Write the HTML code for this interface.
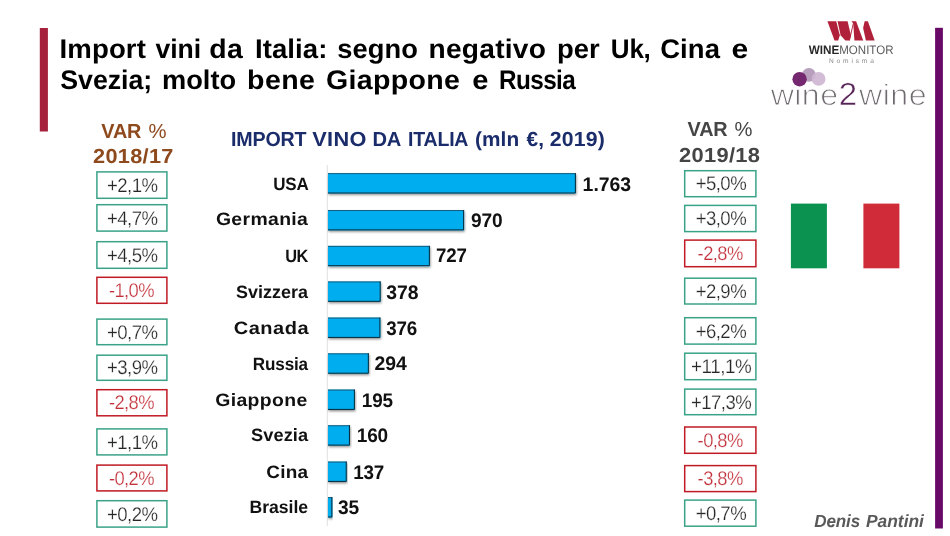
<!DOCTYPE html>
<html><head><meta charset="utf-8"><title>Import vini da Italia</title>
<style>
html,body{margin:0;padding:0;background:#fff;}
body{width:950px;height:536px;overflow:hidden;font-family:"Liberation Sans", sans-serif;}
svg{display:block;opacity:0.999;font-family:"Liberation Sans", sans-serif;font-weight:bold;text-rendering:geometricPrecision;}
</style></head>
<body>
<svg width="950" height="536" viewBox="0 0 950 536">
<defs><filter id="sh" x="-5%" y="-20%" width="110%" height="160%"><feDropShadow dx="0.6" dy="1.4" stdDeviation="0.9" flood-color="#000" flood-opacity="0.45"/></filter></defs>
<rect width="950" height="536" fill="#fff"/>
<rect x="39.8" y="28" width="8.1" height="103.5" fill="#a5213c"/>
<rect x="935.1" y="27.8" width="7.8" height="500.7" fill="#690a69"/>
<rect x="790.9" y="203.6" width="36" height="64.7" fill="#0b9250"/>
<rect x="863.4" y="203.6" width="36" height="64.7" fill="#cf2b38"/>
<rect x="326.8" y="165" width="1" height="361" fill="#e0e0e0"/>
<rect x="328" y="173.20" width="247.88" height="20.30" fill="#04aef0" filter="url(#sh)"/>
<path d="M328 173.65H575.88" stroke="#12536f" stroke-width="0.9" fill="none"/>
<path d="M575.38 173.20V193.00H328" stroke="#0a2836" stroke-width="1" fill="none"/>
<rect x="328" y="210.10" width="136.11" height="20.30" fill="#04aef0" filter="url(#sh)"/>
<path d="M328 210.55H464.11" stroke="#12536f" stroke-width="0.9" fill="none"/>
<path d="M463.61 210.10V229.90H328" stroke="#0a2836" stroke-width="1" fill="none"/>
<rect x="328" y="245.90" width="101.86" height="20.30" fill="#04aef0" filter="url(#sh)"/>
<path d="M328 246.35H429.86" stroke="#12536f" stroke-width="0.9" fill="none"/>
<path d="M429.36 245.90V265.70H328" stroke="#0a2836" stroke-width="1" fill="none"/>
<rect x="328" y="281.50" width="52.68" height="20.30" fill="#04aef0" filter="url(#sh)"/>
<path d="M328 281.95H380.68" stroke="#12536f" stroke-width="0.9" fill="none"/>
<path d="M380.18 281.50V301.30H328" stroke="#0a2836" stroke-width="1" fill="none"/>
<rect x="328" y="317.60" width="52.39" height="20.30" fill="#04aef0" filter="url(#sh)"/>
<path d="M328 318.05H380.39" stroke="#12536f" stroke-width="0.9" fill="none"/>
<path d="M379.89 317.60V337.40H328" stroke="#0a2836" stroke-width="1" fill="none"/>
<rect x="328" y="353.40" width="40.84" height="20.30" fill="#04aef0" filter="url(#sh)"/>
<path d="M328 353.85H368.84" stroke="#12536f" stroke-width="0.9" fill="none"/>
<path d="M368.34 353.40V373.20H328" stroke="#0a2836" stroke-width="1" fill="none"/>
<rect x="328" y="389.60" width="26.88" height="20.30" fill="#04aef0" filter="url(#sh)"/>
<path d="M328 390.05H354.88" stroke="#12536f" stroke-width="0.9" fill="none"/>
<path d="M354.38 389.60V409.40H328" stroke="#0a2836" stroke-width="1" fill="none"/>
<rect x="328" y="425.30" width="21.95" height="20.30" fill="#04aef0" filter="url(#sh)"/>
<path d="M328 425.75H349.95" stroke="#12536f" stroke-width="0.9" fill="none"/>
<path d="M349.45 425.30V445.10H328" stroke="#0a2836" stroke-width="1" fill="none"/>
<rect x="328" y="461.60" width="18.71" height="20.30" fill="#04aef0" filter="url(#sh)"/>
<path d="M328 462.05H346.71" stroke="#12536f" stroke-width="0.9" fill="none"/>
<path d="M346.21 461.60V481.40H328" stroke="#0a2836" stroke-width="1" fill="none"/>
<rect x="328" y="497.20" width="4.33" height="20.30" fill="#04aef0" filter="url(#sh)"/>
<path d="M328 497.65H332.33" stroke="#12536f" stroke-width="0.9" fill="none"/>
<path d="M331.83 497.20V517.00H328" stroke="#0a2836" stroke-width="1" fill="none"/>
<rect x="96.90" y="171.90" width="70.00" height="26.40" fill="none" stroke="#3aa387" stroke-width="1.5"/>
<rect x="96.90" y="204.70" width="70.00" height="26.40" fill="none" stroke="#3aa387" stroke-width="1.5"/>
<rect x="96.90" y="241.70" width="70.00" height="26.60" fill="none" stroke="#3aa387" stroke-width="1.5"/>
<rect x="96.90" y="277.30" width="70.00" height="26.00" fill="none" stroke="#c01a24" stroke-width="1.5"/>
<rect x="96.90" y="319.10" width="70.00" height="25.60" fill="none" stroke="#3aa387" stroke-width="1.5"/>
<rect x="96.90" y="355.20" width="70.00" height="25.10" fill="none" stroke="#3aa387" stroke-width="1.5"/>
<rect x="96.90" y="389.70" width="70.00" height="26.10" fill="none" stroke="#c01a24" stroke-width="1.5"/>
<rect x="96.90" y="428.90" width="70.00" height="26.00" fill="none" stroke="#3aa387" stroke-width="1.5"/>
<rect x="96.90" y="465.10" width="70.00" height="25.80" fill="none" stroke="#c01a24" stroke-width="1.5"/>
<rect x="96.90" y="500.70" width="70.00" height="26.40" fill="none" stroke="#3aa387" stroke-width="1.5"/>
<rect x="684.70" y="170.70" width="71.20" height="26.00" fill="none" stroke="#3aa387" stroke-width="1.5"/>
<rect x="684.70" y="205.40" width="71.20" height="26.20" fill="none" stroke="#3aa387" stroke-width="1.5"/>
<rect x="684.70" y="240.10" width="71.20" height="26.60" fill="none" stroke="#c01a24" stroke-width="1.5"/>
<rect x="684.70" y="278.20" width="71.20" height="25.80" fill="none" stroke="#3aa387" stroke-width="1.5"/>
<rect x="684.70" y="317.70" width="71.20" height="26.40" fill="none" stroke="#3aa387" stroke-width="1.5"/>
<rect x="684.70" y="353.20" width="71.20" height="26.50" fill="none" stroke="#3aa387" stroke-width="1.5"/>
<rect x="684.70" y="389.10" width="71.20" height="25.60" fill="none" stroke="#3aa387" stroke-width="1.5"/>
<rect x="684.70" y="427.00" width="71.20" height="26.30" fill="none" stroke="#c01a24" stroke-width="1.5"/>
<rect x="684.70" y="465.60" width="71.20" height="26.00" fill="none" stroke="#c01a24" stroke-width="1.5"/>
<rect x="684.70" y="500.10" width="71.20" height="26.10" fill="none" stroke="#3aa387" stroke-width="1.5"/>
<polygon points="827.41,21.26 836.22,21.26 839.80,35.19 838.21,40.59 834.52,40.59" fill="#b1203a"/>
<polygon points="837.53,21.26 847.59,21.26 851.00,35.76 849.30,40.59 845.32,40.59 840.60,35.19" fill="#b1203a"/>
<polygon points="848.90,40.59 849.92,40.59 854.13,21.43 853.33,21.43" fill="#b1203a"/>
<polygon points="851.29,21.26 856.12,21.26 863.23,40.59 854.42,40.59 853.22,23.25" fill="#b1203a"/>
<polygon points="864.65,21.26 867.89,21.26 874.71,40.59 865.90,40.59 863.11,28.09" fill="#b1203a"/>
<text transform="translate(59.48 58.20) scale(1.0217 1)" font-size="27.0" fill="#000" letter-spacing="0.117">Import</text>
<text transform="translate(155.60 58.20) scale(0.9848 1)" font-size="27.0" fill="#000" letter-spacing="-0.077">vini</text>
<text transform="translate(209.15 58.20) scale(1.0526 1)" font-size="27.0" fill="#000" letter-spacing="0.524">da</text>
<text transform="translate(254.88 58.20) scale(1.0219 1)" font-size="27.0" fill="#000" letter-spacing="0.080">Italia:</text>
<text transform="translate(337.30 58.20) scale(1.0103 1)" font-size="27.0" fill="#000" letter-spacing="0.067">segno</text>
<text transform="translate(428.56 58.20) scale(1.0423 1)" font-size="27.0" fill="#000" letter-spacing="0.212">negativo</text>
<text transform="translate(556.89 58.20) scale(1.0143 1)" font-size="27.0" fill="#000" letter-spacing="0.098">per</text>
<text transform="translate(610.84 58.20) scale(0.9637 1)" font-size="27.0" fill="#000" letter-spacing="-0.248">Uk,</text>
<text transform="translate(660.18 58.20) scale(1.0168 1)" font-size="27.0" fill="#000" letter-spacing="0.107">Cina</text>
<text transform="translate(731.39 58.20) scale(1.1143 1)" font-size="27.0" fill="#000">e</text>
<text transform="translate(60.30 88.60) scale(0.9905 1)" font-size="27.0" fill="#000" letter-spacing="-0.049">Svezia;</text>
<text transform="translate(161.89 88.60) scale(1.0084 1)" font-size="27.0" fill="#000" letter-spacing="0.050">molto</text>
<text transform="translate(247.04 88.60) scale(1.0580 1)" font-size="27.0" fill="#000" letter-spacing="0.378">bene</text>
<text transform="translate(326.04 88.60) scale(1.0565 1)" font-size="27.0" fill="#000" letter-spacing="0.315">Giappone</text>
<text transform="translate(472.32 88.60) scale(1.0786 1)" font-size="27.0" fill="#000">e</text>
<text transform="translate(499.00 88.60) scale(0.9007 1)" font-size="27.0" fill="#000" letter-spacing="-0.651">Russia</text>
<text transform="translate(101.30 138.00) scale(0.9790 1)" font-size="20.3" fill="#8e4a1c" letter-spacing="-0.149">VAR</text>
<text transform="translate(148.50 138.00) scale(1.0000 1)" font-size="20.3" fill="#8e4a1c" font-weight="normal">%</text>
<text transform="translate(93.10 163.10) scale(1.0716 1)" font-size="20.3" fill="#8e4a1c" letter-spacing="0.271">2018/17</text>
<text transform="translate(687.60 136.00) scale(0.9772 1)" font-size="20.3" fill="#454545" letter-spacing="-0.162">VAR</text>
<text transform="translate(734.50 136.00) scale(0.9944 1)" font-size="20.3" fill="#454545" font-weight="normal">%</text>
<text transform="translate(679.00 161.50) scale(1.0777 1)" font-size="20.3" fill="#454545" letter-spacing="0.293">2019/18</text>
<text transform="translate(231.04 146.00) scale(0.9635 1)" font-size="20.4" fill="#1b2c6b" letter-spacing="-0.199">IMPORT</text>
<text transform="translate(312.20 146.00) scale(1.0660 1)" font-size="20.4" fill="#1b2c6b" letter-spacing="0.337">VINO</text>
<text transform="translate(372.41 146.00) scale(0.9863 1)" font-size="20.4" fill="#1b2c6b" letter-spacing="-0.133">DA</text>
<text transform="translate(408.04 146.00) scale(0.9556 1)" font-size="20.4" fill="#1b2c6b" letter-spacing="-0.196">ITALIA</text>
<text transform="translate(474.98 146.00) scale(1.0201 1)" font-size="20.4" fill="#1b2c6b" letter-spacing="0.091">(mln</text>
<text transform="translate(526.60 146.00) scale(1.0211 1)" font-size="20.4" fill="#1b2c6b" letter-spacing="0.113">€,</text>
<text transform="translate(549.80 146.00) scale(1.0415 1)" font-size="20.4" fill="#1b2c6b" letter-spacing="0.170">2019)</text>
<text transform="translate(273.34 190.00) scale(0.9571 1)" font-size="17.8" fill="#111" letter-spacing="-0.274">USA</text>
<text transform="translate(582.61 191.00) scale(0.9917 1)" font-size="19.6" fill="#111" letter-spacing="-0.034">1.763</text>
<text transform="translate(215.90 225.00) scale(1.0909 1)" font-size="17.8" fill="#111" letter-spacing="0.326">Germania</text>
<text transform="translate(471.00 227.00) scale(0.9773 1)" font-size="19.6" fill="#111" letter-spacing="-0.127">970</text>
<text transform="translate(285.28 262.00) scale(0.9203 1)" font-size="17.8" fill="#111" letter-spacing="-0.717">UK</text>
<text transform="translate(436.10 262.00) scale(0.9544 1)" font-size="19.6" fill="#111" letter-spacing="-0.261">727</text>
<text transform="translate(236.10 298.00) scale(1.0086 1)" font-size="17.8" fill="#111" letter-spacing="0.029">Svizzera</text>
<text transform="translate(386.30 299.00) scale(0.9887 1)" font-size="19.6" fill="#111" letter-spacing="-0.062">378</text>
<text transform="translate(233.70 334.00) scale(1.1242 1)" font-size="17.8" fill="#111" letter-spacing="0.474">Canada</text>
<text transform="translate(386.30 335.00) scale(0.9590 1)" font-size="19.6" fill="#111" letter-spacing="-0.234">376</text>
<text transform="translate(252.84 370.00) scale(0.9605 1)" font-size="17.8" fill="#111" letter-spacing="-0.157">Russia</text>
<text transform="translate(374.50 370.00) scale(0.9910 1)" font-size="19.6" fill="#111" letter-spacing="-0.050">294</text>
<text transform="translate(215.20 406.00) scale(1.0913 1)" font-size="17.8" fill="#111" letter-spacing="0.327">Giappone</text>
<text transform="translate(361.84 407.00) scale(0.9648 1)" font-size="19.6" fill="#111" letter-spacing="-0.194">195</text>
<text transform="translate(251.10 441.00) scale(1.0221 1)" font-size="17.8" fill="#111" letter-spacing="0.080">Svezia</text>
<text transform="translate(356.73 442.00) scale(0.9718 1)" font-size="19.6" fill="#111" letter-spacing="-0.154">160</text>
<text transform="translate(266.20 478.00) scale(1.0652 1)" font-size="17.8" fill="#111" letter-spacing="0.263">Cina</text>
<text transform="translate(353.14 479.00) scale(0.9600 1)" font-size="19.6" fill="#111" letter-spacing="-0.221">137</text>
<text transform="translate(249.51 513.00) scale(0.9908 1)" font-size="17.8" fill="#111" letter-spacing="-0.030">Brasile</text>
<text transform="translate(337.90 514.00) scale(0.9795 1)" font-size="19.6" fill="#111" letter-spacing="-0.152">35</text>
<text transform="translate(107.00 191.70) scale(0.9395 1)" font-size="19.8" fill="#262626" font-weight="normal" letter-spacing="-0.601" stroke="#fff" stroke-width="0.25">+2,1%</text>
<text transform="translate(107.00 224.50) scale(0.9395 1)" font-size="19.8" fill="#262626" font-weight="normal" letter-spacing="-0.601" stroke="#fff" stroke-width="0.25">+4,7%</text>
<text transform="translate(107.00 261.60) scale(0.9395 1)" font-size="19.8" fill="#262626" font-weight="normal" letter-spacing="-0.601" stroke="#fff" stroke-width="0.25">+4,5%</text>
<text transform="translate(108.90 296.90) scale(0.9297 1)" font-size="19.8" fill="#c2303a" font-weight="normal" letter-spacing="-0.644" stroke="#fff" stroke-width="0.25">-1,0%</text>
<text transform="translate(107.00 338.50) scale(0.9395 1)" font-size="19.8" fill="#262626" font-weight="normal" letter-spacing="-0.601" stroke="#fff" stroke-width="0.25">+0,7%</text>
<text transform="translate(107.00 374.35) scale(0.9395 1)" font-size="19.8" fill="#262626" font-weight="normal" letter-spacing="-0.601" stroke="#fff" stroke-width="0.25">+3,9%</text>
<text transform="translate(108.90 409.35) scale(0.9297 1)" font-size="19.8" fill="#c2303a" font-weight="normal" letter-spacing="-0.644" stroke="#fff" stroke-width="0.25">-2,8%</text>
<text transform="translate(107.00 448.50) scale(0.9395 1)" font-size="19.8" fill="#262626" font-weight="normal" letter-spacing="-0.601" stroke="#fff" stroke-width="0.25">+1,1%</text>
<text transform="translate(108.90 484.60) scale(0.9297 1)" font-size="19.8" fill="#c2303a" font-weight="normal" letter-spacing="-0.644" stroke="#fff" stroke-width="0.25">-0,2%</text>
<text transform="translate(107.00 520.50) scale(0.9395 1)" font-size="19.8" fill="#262626" font-weight="normal" letter-spacing="-0.601" stroke="#fff" stroke-width="0.25">+0,2%</text>
<text transform="translate(695.70 190.30) scale(0.9395 1)" font-size="19.8" fill="#262626" font-weight="normal" letter-spacing="-0.601" stroke="#fff" stroke-width="0.25">+5,0%</text>
<text transform="translate(695.70 225.10) scale(0.9395 1)" font-size="19.8" fill="#262626" font-weight="normal" letter-spacing="-0.601" stroke="#fff" stroke-width="0.25">+3,0%</text>
<text transform="translate(697.60 260.00) scale(0.9297 1)" font-size="19.8" fill="#c2303a" font-weight="normal" letter-spacing="-0.644" stroke="#fff" stroke-width="0.25">-2,8%</text>
<text transform="translate(695.70 297.70) scale(0.9395 1)" font-size="19.8" fill="#262626" font-weight="normal" letter-spacing="-0.601" stroke="#fff" stroke-width="0.25">+2,9%</text>
<text transform="translate(695.70 337.50) scale(0.9395 1)" font-size="19.8" fill="#262626" font-weight="normal" letter-spacing="-0.601" stroke="#fff" stroke-width="0.25">+6,2%</text>
<text transform="translate(691.00 373.05) scale(0.9508 1)" font-size="19.8" fill="#262626" font-weight="normal" letter-spacing="-0.453" stroke="#fff" stroke-width="0.25">+11,1%</text>
<text transform="translate(691.00 408.50) scale(0.9387 1)" font-size="19.8" fill="#262626" font-weight="normal" letter-spacing="-0.584" stroke="#fff" stroke-width="0.25">+17,3%</text>
<text transform="translate(697.60 446.75) scale(0.9297 1)" font-size="19.8" fill="#c2303a" font-weight="normal" letter-spacing="-0.644" stroke="#fff" stroke-width="0.25">-0,8%</text>
<text transform="translate(697.60 485.20) scale(0.9297 1)" font-size="19.8" fill="#c2303a" font-weight="normal" letter-spacing="-0.644" stroke="#fff" stroke-width="0.25">-3,8%</text>
<text transform="translate(695.70 519.75) scale(0.9395 1)" font-size="19.8" fill="#262626" font-weight="normal" letter-spacing="-0.601" stroke="#fff" stroke-width="0.25">+0,7%</text>
<text transform="translate(814.20 527.00) scale(0.9700 1)" font-size="17.6" fill="#595959" font-style="italic" letter-spacing="-0.124">Denis</text>
<text transform="translate(866.00 527.00) scale(0.9905 1)" font-size="17.6" fill="#595959" font-style="italic" letter-spacing="-0.032">Pantini</text>
<text transform="translate(808.80 54.00) scale(0.9529 1)" font-size="12.3" fill="#2a2a2a">WINE</text>
<text transform="translate(839.26 54.00) scale(0.9375 1)" font-size="12.3" fill="#5a5a5a" font-weight="normal">MONITOR</text>
<text transform="translate(829.00 62.60) scale(1.0000 1)" font-size="6.6" fill="#8a8a8a" font-weight="normal" letter-spacing="2.837">Nomisma</text>
<text transform="translate(770.68 105.00) scale(1.0846 1)" font-size="29.6" fill="#6f6a6f" font-weight="normal" letter-spacing="0.399" stroke="#fff" stroke-width="0.9">wine</text>
<text transform="translate(838.77 105.00) scale(1.0312 1)" font-size="32.0" fill="#572457" font-weight="normal" stroke="#fff" stroke-width="0.5">2</text>
<text transform="translate(859.09 105.00) scale(1.0859 1)" font-size="29.6" fill="#6f6a6f" font-weight="normal" letter-spacing="0.405" stroke="#fff" stroke-width="0.9">wine</text>
<circle cx="808.9" cy="74.9" r="6.9" fill="#b79fbd"/>
<circle cx="818.6" cy="78.9" r="6.9" fill="#cfb8d3" fill-opacity="0.94"/>
<circle cx="799.6" cy="79.2" r="7.2" fill="#75286f"/>
</svg>
</body></html>
